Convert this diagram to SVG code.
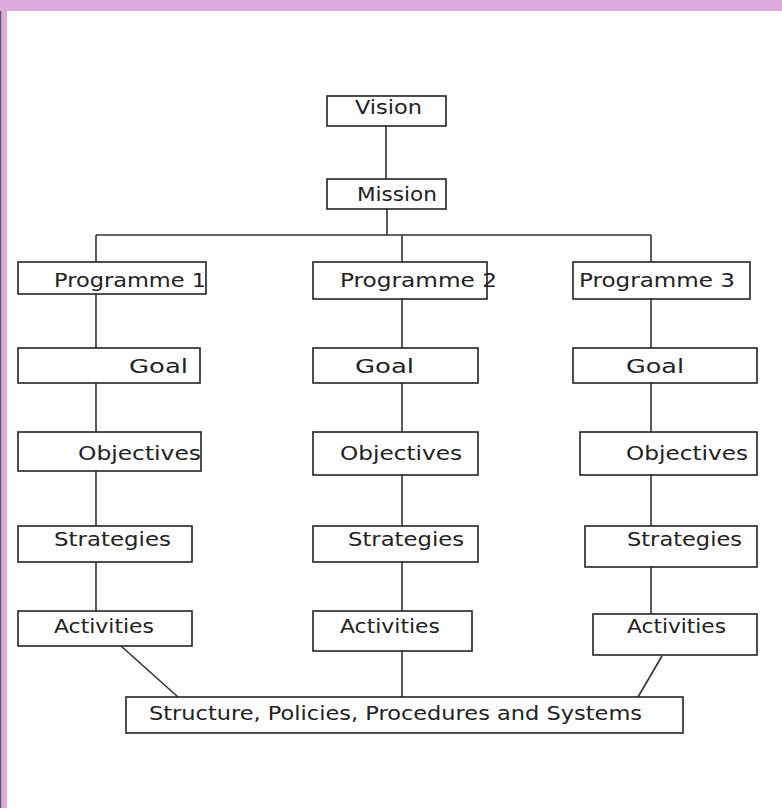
<svg xmlns="http://www.w3.org/2000/svg" width="782" height="808" viewBox="0 0 782 808">
<style>
.box{fill:#fff;stroke:#222;stroke-width:1.6}
.lbl{font-family:"DejaVu Sans","Liberation Sans",sans-serif;font-size:20px;fill:#222}
.con line{stroke:#333;stroke-width:1.6}
</style>
<rect x="0" y="0" width="782" height="808" fill="#fff"/>
<rect x="0" y="0" width="782" height="11" fill="#DAAAD8"/>
<rect x="0" y="0" width="7" height="808" fill="#DAAAD8"/>
<rect x="0" y="11" width="1.2" height="797" fill="#555"/>
<g class="con">
<line x1="386" y1="126" x2="386" y2="179"/>
<line x1="387" y1="209" x2="387" y2="235"/>
<line x1="96" y1="235" x2="651" y2="235"/>
<line x1="96" y1="235" x2="96" y2="262"/>
<line x1="402" y1="235" x2="402" y2="262"/>
<line x1="651" y1="235" x2="651" y2="262"/>
<line x1="96" y1="294" x2="96" y2="348"/>
<line x1="402" y1="299" x2="402" y2="348"/>
<line x1="651" y1="299" x2="651" y2="348"/>
<line x1="96" y1="383" x2="96" y2="432"/>
<line x1="402" y1="383" x2="402" y2="432"/>
<line x1="651" y1="383" x2="651" y2="432"/>
<line x1="96" y1="471" x2="96" y2="526"/>
<line x1="402" y1="475" x2="402" y2="526"/>
<line x1="651" y1="475" x2="651" y2="526"/>
<line x1="96" y1="562" x2="96" y2="611"/>
<line x1="402" y1="562" x2="402" y2="611"/>
<line x1="651" y1="567" x2="651" y2="614"/>
<line x1="121" y1="646" x2="178" y2="697"/>
<line x1="402" y1="651" x2="402" y2="697"/>
<line x1="662" y1="656" x2="638" y2="697"/>
</g>
<g id="vision"><rect class="box" x="327" y="96" width="119" height="30"/><text class="lbl" x="355" y="114" textLength="67" lengthAdjust="spacingAndGlyphs">Vision</text></g>
<g id="mission"><rect class="box" x="327" y="179" width="119" height="30"/><text class="lbl" x="357" y="201" textLength="80" lengthAdjust="spacingAndGlyphs">Mission</text></g>
<g id="programme1"><rect class="box" x="18" y="262" width="188" height="32"/><text class="lbl" x="54" y="287" textLength="152" lengthAdjust="spacingAndGlyphs">Programme 1</text></g>
<g id="programme2"><rect class="box" x="313" y="262" width="174" height="37"/><text class="lbl" x="340" y="287" textLength="157" lengthAdjust="spacingAndGlyphs">Programme 2</text></g>
<g id="programme3"><rect class="box" x="573" y="262" width="177" height="37"/><text class="lbl" x="579" y="287" textLength="156" lengthAdjust="spacingAndGlyphs">Programme 3</text></g>
<g id="goal1"><rect class="box" x="18" y="348" width="182" height="35"/><text class="lbl" x="129" y="373" textLength="59" lengthAdjust="spacingAndGlyphs">Goal</text></g>
<g id="goal2"><rect class="box" x="313" y="348" width="165" height="35"/><text class="lbl" x="355" y="373" textLength="59" lengthAdjust="spacingAndGlyphs">Goal</text></g>
<g id="goal3"><rect class="box" x="573" y="348" width="184" height="35"/><text class="lbl" x="626" y="373" textLength="58" lengthAdjust="spacingAndGlyphs">Goal</text></g>
<g id="objectives1"><rect class="box" x="18" y="432" width="183" height="39"/><text class="lbl" x="78" y="460" textLength="123" lengthAdjust="spacingAndGlyphs">Objectives</text></g>
<g id="objectives2"><rect class="box" x="313" y="432" width="165" height="43"/><text class="lbl" x="340" y="460" textLength="122" lengthAdjust="spacingAndGlyphs">Objectives</text></g>
<g id="objectives3"><rect class="box" x="580" y="432" width="177" height="43"/><text class="lbl" x="626" y="460" textLength="122" lengthAdjust="spacingAndGlyphs">Objectives</text></g>
<g id="strategies1"><rect class="box" x="18" y="526" width="174" height="36"/><text class="lbl" x="54" y="546" textLength="117" lengthAdjust="spacingAndGlyphs">Strategies</text></g>
<g id="strategies2"><rect class="box" x="313" y="526" width="165" height="36"/><text class="lbl" x="348" y="546" textLength="116" lengthAdjust="spacingAndGlyphs">Strategies</text></g>
<g id="strategies3"><rect class="box" x="585" y="526" width="172" height="41"/><text class="lbl" x="627" y="546" textLength="115" lengthAdjust="spacingAndGlyphs">Strategies</text></g>
<g id="activities1"><rect class="box" x="18" y="611" width="174" height="35"/><text class="lbl" x="54" y="633" textLength="100" lengthAdjust="spacingAndGlyphs">Activities</text></g>
<g id="activities2"><rect class="box" x="313" y="611" width="159" height="40"/><text class="lbl" x="340" y="633" textLength="100" lengthAdjust="spacingAndGlyphs">Activities</text></g>
<g id="activities3"><rect class="box" x="593" y="614" width="164" height="41"/><text class="lbl" x="627" y="633" textLength="99" lengthAdjust="spacingAndGlyphs">Activities</text></g>
<g id="structure"><rect class="box" x="126" y="697" width="557" height="36"/><text class="lbl" x="149" y="720" textLength="493" lengthAdjust="spacingAndGlyphs">Structure, Policies, Procedures and Systems</text></g>
</svg>
